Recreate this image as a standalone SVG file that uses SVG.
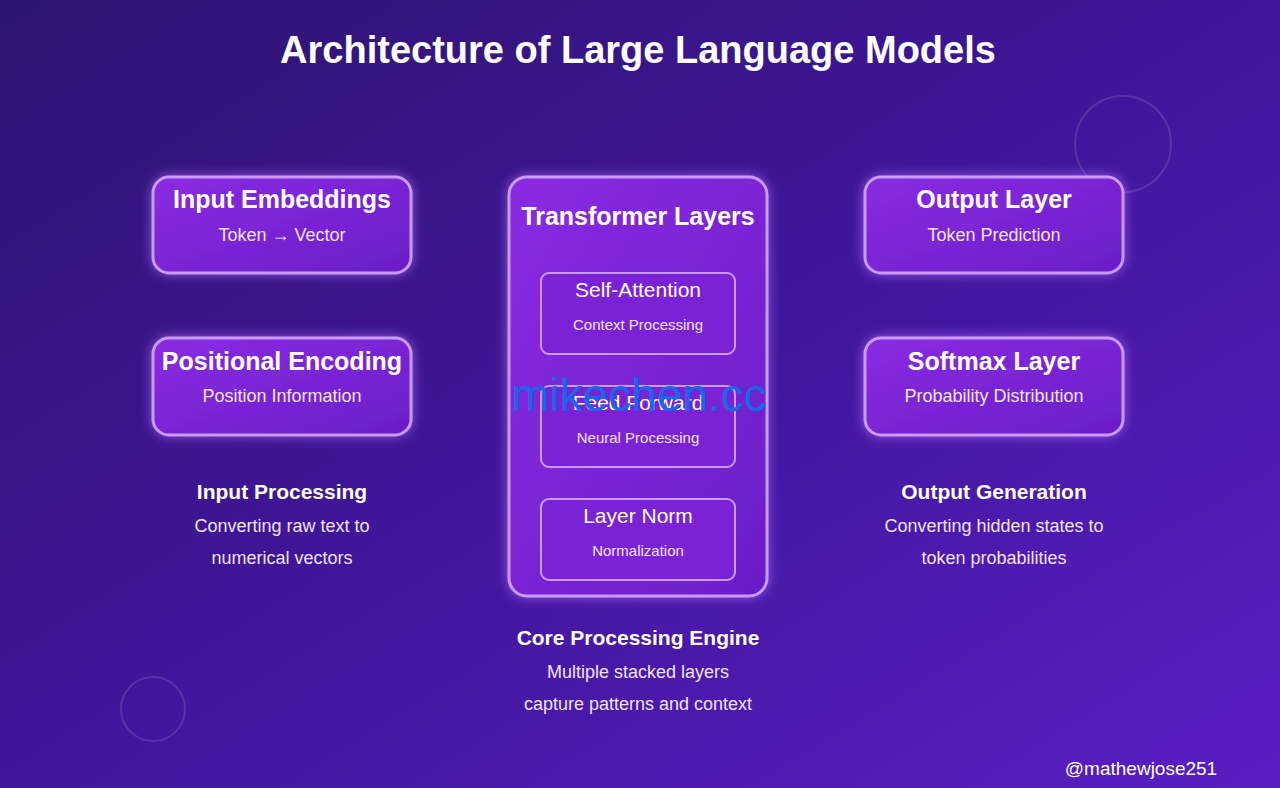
<svg xmlns="http://www.w3.org/2000/svg" width="1280" height="788" viewBox="0 0 1280 788">
<defs>
<linearGradient id="bg" x1="0" y1="0" x2="1" y2="1"><stop offset="0" stop-color="#2e1470"/><stop offset="0.5" stop-color="#40169a"/><stop offset="1" stop-color="#5a1ec4"/></linearGradient>
<linearGradient id="box" x1="0" y1="0" x2="1" y2="1"><stop offset="0" stop-color="#8a2be2"/><stop offset="1" stop-color="#6a1ec8"/></linearGradient>
<filter id="g2" x="-20%" y="-20%" width="140%" height="140%"><feDropShadow dx="0" dy="0" stdDeviation="6" flood-color="#b66dff" flood-opacity="0.7"/></filter>
</defs>
<style>
.b{fill:url(#box);stroke:#c99bff;stroke-width:3;filter:url(#g2)}
.i{fill:#7c22d6;stroke:#c99bff;stroke-width:2}
.t{font-family:"Liberation Sans",Arial,sans-serif;fill:#fff;text-anchor:middle}
.h{font-weight:bold;font-size:25px}
.s{font-size:18px;fill:#f0e4ff}
.n{font-size:21px}
.m{font-size:15px;fill:#f0e4ff}
.c{font-weight:bold;font-size:21px}
.d{font-size:18px;fill:#f0e4ff}
</style>
<rect width="1280" height="788" fill="url(#bg)"/>
<circle cx="1123" cy="144" r="48" fill="none" stroke="#ffffff" stroke-opacity="0.12" stroke-width="2"/>
<circle cx="153" cy="709" r="32" fill="none" stroke="#ffffff" stroke-opacity="0.12" stroke-width="2"/>
<text class="t" x="638" y="63" font-size="38" font-weight="bold" fill="#f4ecff">Architecture of Large Language Models</text>
<g id="input-embeddings"><rect class="b" x="153" y="177" width="258" height="96" rx="16"/><text class="t h" x="282" y="208">Input Embeddings</text><text class="t s" x="282" y="241">Token → Vector</text></g>
<g id="positional-encoding"><rect class="b" x="153" y="338" width="258" height="97" rx="16"/><text class="t h" x="282" y="370">Positional Encoding</text><text class="t s" x="282" y="402">Position Information</text></g>
<g id="input-caption"><text class="t c" x="282" y="499">Input Processing</text><text class="t d" x="282" y="532">Converting raw text to</text><text class="t d" x="282" y="564">numerical vectors</text></g>
<g id="transformer-layers"><rect class="b" x="509" y="177" width="258" height="419" rx="18"/><text class="t h" x="638" y="225">Transformer Layers</text></g>
<g id="self-attention"><rect class="i" x="541" y="273" width="194" height="81" rx="8"/><text class="t n" x="638" y="297">Self-Attention</text><text class="t m" x="638" y="330">Context Processing</text></g>
<g id="feed-forward"><rect class="i" x="541" y="386" width="194" height="81" rx="8"/><text class="t n" x="638" y="410">Feed Forward</text><text class="t m" x="638" y="443">Neural Processing</text></g>
<g id="layer-norm"><rect class="i" x="541" y="499" width="194" height="81" rx="8"/><text class="t n" x="638" y="523">Layer Norm</text><text class="t m" x="638" y="556">Normalization</text></g>
<g id="core-caption"><text class="t c" x="638" y="645">Core Processing Engine</text><text class="t d" x="638" y="678">Multiple stacked layers</text><text class="t d" x="638" y="710">capture patterns and context</text></g>
<g id="output-layer"><rect class="b" x="865" y="177" width="258" height="96" rx="16"/><text class="t h" x="994" y="208">Output Layer</text><text class="t s" x="994" y="241">Token Prediction</text></g>
<g id="softmax-layer"><rect class="b" x="865" y="338" width="258" height="97" rx="16"/><text class="t h" x="994" y="370">Softmax Layer</text><text class="t s" x="994" y="402">Probability Distribution</text></g>
<g id="output-caption"><text class="t c" x="994" y="499">Output Generation</text><text class="t d" x="994" y="532">Converting hidden states to</text><text class="t d" x="994" y="564">token probabilities</text></g>
<g id="connectors"/>
<text class="t" x="1141" y="775" font-size="19" fill="#f0e4ff">@mathewjose251</text>
<text x="639" y="411" font-family="Liberation Sans,Arial,sans-serif" font-size="46" fill="#1668e8" text-anchor="middle">mikechen.cc</text>
</svg>
